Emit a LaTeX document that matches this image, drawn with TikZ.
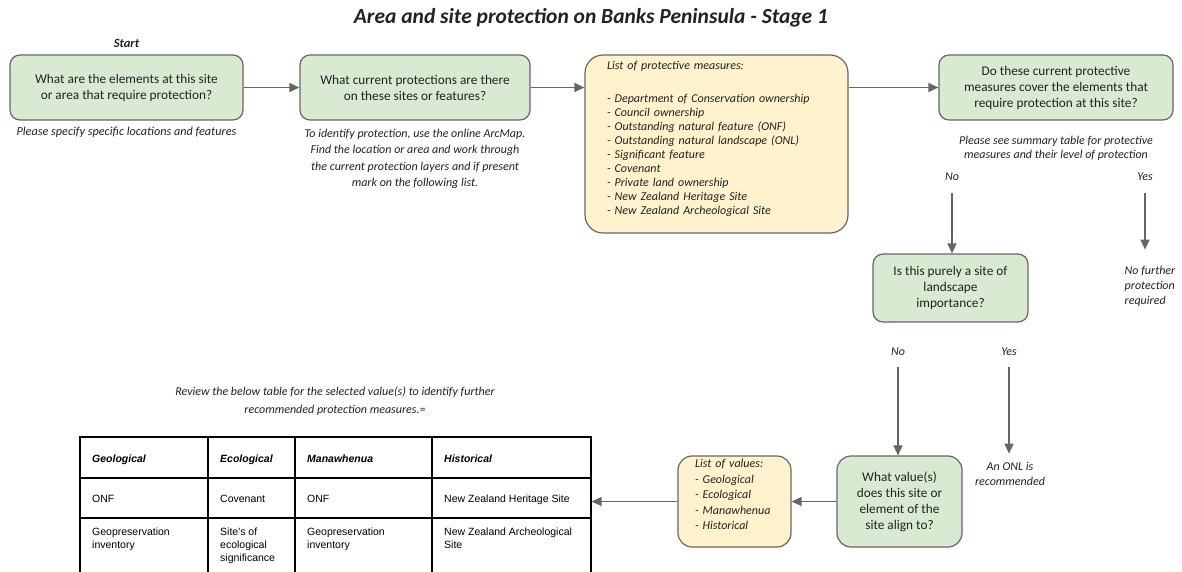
\documentclass[tikz,border=0pt]{standalone}
\usepackage{fontspec}
\setmainfont{Carlito}
\newfontfamily\tablefont{Liberation Sans}
\usetikzlibrary{positioning, calc, arrows.meta}
\definecolor{boxgreen}{HTML}{D9EAD3}
\definecolor{boxyellow}{HTML}{FFF2CC}
\definecolor{edgegray}{HTML}{666666}
\definecolor{inkgray}{HTML}{222222}

\begin{document}
\begin{tikzpicture}[x=1pt, y=-1pt,
    question/.style={rectangle, 
      rounded corners=10pt, 
      draw=edgegray, 
      line width=1.2pt, 
      fill=boxgreen, 
      align=center, 
      text=inkgray, 
      font=\fontsize{13.3}{16}\selectfont},
    listbox/.style={rectangle, 
      rounded corners=14pt, 
      draw=edgegray, 
      line width=1.2pt, 
      fill=boxyellow, 
      align=left, 
      text=inkgray, 
      font=\itshape\fontsize{12}{14}\selectfont},
    note/.style={align=center, 
      inner sep=0pt, 
      text=inkgray, 
      font=\itshape\fontsize{12}{16.5}\selectfont},
    gridline/.style={draw=black, line width=1.2pt},
    cell/.style={anchor=base west, 
      inner sep=0pt, 
      align=left, 
      font=\tablefont\fontsize{10.5}{13}\selectfont},
    headcell/.style={cell, font=\tablefont\bfseries\itshape\fontsize{10.5}{13}\selectfont},
    longcell/.style={cell, anchor=north west},
    flow/.style={draw=edgegray, line width=1.3pt, 
      -{Triangle[length=10pt, width=9pt]}}]
  \useasboundingbox (0,0) rectangle (1182,571);

  \node [font=\bfseries\itshape\fontsize{21.5}{24}\selectfont, text=inkgray] 
    (title) at (591,18) {Area and site protection on Banks Peninsula - Stage 1};

  % FIRST ROW

  \node [question, minimum width=233pt, minimum height=65pt] 
    (elements) at (126.5,87.5) {What are the elements at this site\\or area that require protection?};
  \node [note, font=\bfseries\itshape\fontsize{12.5}{14}\selectfont, 
    above=7pt of elements] (start) {Start};
  \node [note, font=\itshape\fontsize{12.2}{16.5}\selectfont, 
    below=6pt of elements] (elementsnote) 
    {Please specify specific locations and features};

  \node [question, minimum width=230pt, minimum height=65pt] 
    (current) at (415,87.5) {What current protections are there\\on these sites or features?};
  \node [note, below=8pt of current] (currentnote) {%
    To identify protection, use the online ArcMap.\\
    Find the location or area and work through\\
    the current protection layers and if present\\
    mark on the following list.};

  \node [listbox, rounded corners=18pt, 
    minimum width=263pt, minimum height=178pt, 
    text width=219pt] (measures) at (716.5,144) {%
    List of protective measures:\\[19pt]
    - Department of Conservation ownership\\
    - Council ownership\\
    - Outstanding natural feature (ONF)\\
    - Outstanding natural landscape (ONL)\\
    - Significant feature\\
    - Covenant\\
    - Private land ownership\\
    - New Zealand Heritage Site\\
    - New Zealand Archeological Site\rule[-12pt]{0pt}{0pt}};

  \node [question, minimum width=234pt, minimum height=65pt] 
    (cover) at (1056,87.5) {Do these current protective\\measures cover the elements that\\require protection at this site?};
  \node [note, font=\itshape\fontsize{12}{14.5}\selectfont, 
    below=15pt of cover] (covernote) 
    {Please see summary table for protective\\measures and their level of protection};

  \node [note] (no1) at (952,177) {No};
  \node [note] (yes1) at (1145,177) {Yes};

  % SECOND ROW

  \node [question, minimum width=155pt, minimum height=68pt] 
    (landscape) at (950.5,288) {Is this purely a site of\\landscape\\importance?};
  \node [note, align=left, font=\itshape\fontsize{12}{15}\selectfont] 
    (nofurther) at (1150,286) {No further\\protection\\required};

  \node [note] (no2) at (898,352) {No};
  \node [note] (yes2) at (1009,352) {Yes};

  % THIRD ROW

  \node [question, rounded corners=14pt, minimum width=125pt, minimum height=91pt] 
    (alignment) at (899.5,501.5) {What value(s)\\does this site or\\element of the\\site align to?};
  \node [note, font=\itshape\fontsize{12}{15}\selectfont] 
    (onl) at (1010,473.5) {An ONL is\\recommended};

  \node [listbox, minimum width=113pt, minimum height=91pt, 
    text width=79pt, 
    font=\itshape\fontsize{12}{15.5}\selectfont] (values) at (734.5,501.5) {%
    List of values:\\
    - Geological\\
    - Ecological\\
    - Manawhenua\\
    - Historical\rule[-14pt]{0pt}{0pt}};

  \node [note, font=\itshape\fontsize{12}{18}\selectfont] (review) at (335,401) 
    {Review the below table for the selected value(s) to identify further\\recommended protection measures.=};

  % TABLE

  \foreach \x in {80,208,295,432,591}
    \draw[gridline] (\x,437) -- (\x,575);
  \foreach \y in {437,478,518}
    \draw[gridline] (79.4,\y) -- (591.6,\y);
  \coordinate (tableedge) at (591.6,502);

  \node [headcell] (geohead) at (92,462) {Geological};
  \node [headcell] (ecohead) at (220,462) {Ecological};
  \node [headcell] (manahead) at (307,462) {Manawhenua};
  \node [headcell] (histhead) at (444,462) {Historical};

  \node [cell] (geoone) at (92,502) {ONF};
  \node [cell] (ecoone) at (220,502) {Covenant};
  \node [cell] (manaone) at (307,502) {ONF};
  \node [cell] (histone) at (444,502) {New Zealand Heritage Site};

  \node [longcell] (geotwo) at (92,528) {Geopreservation\\inventory};
  \node [longcell] (ecotwo) at (220,528) {Site's of\\ecological\\significance};
  \node [longcell] (manatwo) at (307,528) {Geopreservation\\inventory};
  \node [longcell] (histtwo) at (444,528) {New Zealand Archeological\\Site};

  % CONNECTORS

  \draw[flow] (elements.east) -- (current.west);
  \draw[flow] (current.east) -- (measures.west |- current.east);
  \draw[flow] (measures.east |- cover.west) -- (cover.west);
  \draw[flow, shorten <=12pt] (no1.south) -- (no1.south |- landscape.north);
  \draw[flow, shorten <=12pt, shorten >=16pt] (yes1.south) -- (yes1.south |- nofurther.north);
  \draw[flow, shorten <=11pt] (no2.south) -- (no2.south |- alignment.north);
  \draw[flow, shorten <=11pt, shorten >=8pt] (yes2.south) -- (yes2.south |- onl.north);
  \draw[flow] (alignment.west) -- (values.east);
  \draw[flow] (values.west) -- (values.west -| tableedge);

\end{tikzpicture}
\end{document}
